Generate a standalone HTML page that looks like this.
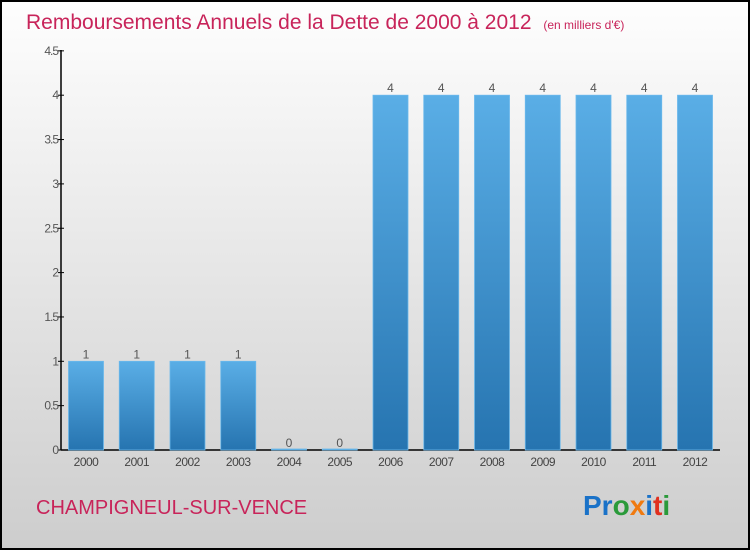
<!DOCTYPE html>
<html><head><meta charset="utf-8"><style>
body{margin:0;width:750px;height:550px;overflow:hidden;font-family:"Liberation Sans",sans-serif}
</style></head><body>
<svg width="750" height="550" xmlns="http://www.w3.org/2000/svg">
<defs>
<linearGradient id="bg" x1="0" y1="0" x2="0" y2="1"><stop offset="0" stop-color="#fefefe"/><stop offset="1" stop-color="#cdcdcd"/></linearGradient>
<linearGradient id="bar" x1="0" y1="0" x2="0" y2="1"><stop offset="0" stop-color="#5aaee6"/><stop offset="1" stop-color="#2674b0"/></linearGradient>
</defs>
<rect x="1" y="1" width="748" height="548" fill="url(#bg)" stroke="#000" stroke-width="2"/>
<text x="26" y="29" font-size="21" fill="#c8245a">Remboursements Annuels de la Dette de 2000 à 2012 <tspan font-size="12" dx="6">(en milliers d'€)</tspan></text>
<g id="plot"></g>
<text x="36" y="514" font-size="20" fill="#c8245a">CHAMPIGNEUL-SUR-VENCE</text>
<text x="583" y="515" font-size="28" font-weight="bold"><tspan fill="#1a72c8">Pr</tspan><tspan fill="#2a9a3a">o</tspan><tspan fill="#f07a10">x</tspan><tspan fill="#1a72c8">i</tspan><tspan fill="#e03020">t</tspan><tspan fill="#2a9a3a">i</tspan></text>
</svg>
<script>
const categories=["2000","2001","2002","2003","2004","2005","2006","2007","2008","2009","2010","2011","2012"];
const values=[1,1,1,1,0,0,4,4,4,4,4,4,4];
const tickValues=[0,0.5,1,1.5,2,2.5,3,3.5,4,4.5];
const tickLabels=["0","0.5","1","1.5","2","2.5","3","3.5","4","4.5"];
const NS="http://www.w3.org/2000/svg";
const g=document.getElementById("plot");
const y=v=>450-v*88.7;
const x=i=>86+i*50.75;
function el(t,a,txt){const e=document.createElementNS(NS,t);for(const k in a)e.setAttribute(k,a[k]);if(txt!==undefined)e.textContent=txt;g.appendChild(e);return e;}
let ax=el("line",{x1:61,y1:50,x2:61,y2:450,stroke:"#000","stroke-width":1.5});


let bx=el("line",{x1:61,y1:450,x2:720,y2:450,stroke:"#000","stroke-width":1.5});


tickValues.forEach((v,i)=>{
 let tk=el("line",{x1:58,y1:y(v),x2:64,y2:y(v),stroke:"#000"});
 
 
 let t=el("text",{x:58,y:y(v)+4,"font-size":12,fill:"#555","text-anchor":"end","letter-spacing":"-1"},tickLabels[i]);
 
 
});
categories.forEach((c,i)=>{
 const v=values[i];const h=Math.max(1,450-y(v));
 let r=el("rect",{x:x(i)-17.5,y:450-h,width:35,height:h,fill:"url(#bar)",stroke:"#6ab8ec","stroke-width":0.8});
 
 
 let lv=el("text",{x:x(i),y:y(v)-3,"font-size":12,fill:"#555","text-anchor":"middle"},String(v));
 
 
 let lc=el("text",{x:x(i),y:466,"font-size":12,fill:"#444","text-anchor":"middle","letter-spacing":"-0.5"},c);
 
 
});
</script>
</body></html>
